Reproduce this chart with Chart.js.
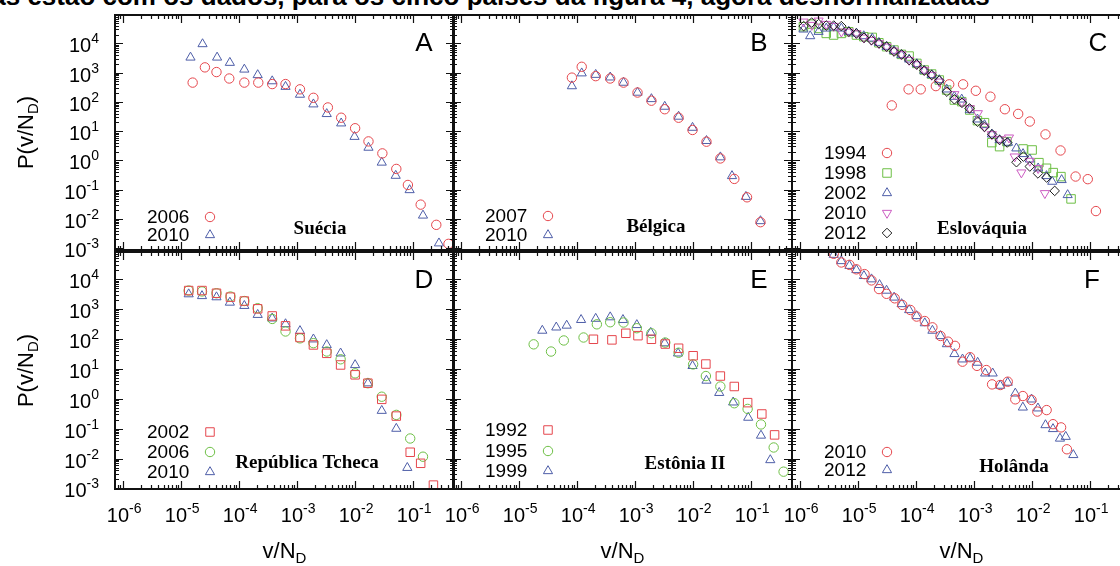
<!DOCTYPE html>
<html>
<head>
<meta charset="utf-8">
<script src="https://cdn.jsdelivr.net/npm/chart.js@4.4.1/dist/chart.umd.min.js"></script>
<style>
html, body { margin: 0; padding: 0; background: #fff; overflow: hidden; width: 1120px; height: 566px; }
.layer { position: absolute; left: 0; top: 0; }
#caption { position: absolute; left: 0; top: -19px; line-height: 26px; font: bold 26px "Liberation Sans", Arial, sans-serif; white-space: nowrap; color: #000; }
</style>
</head>
<body>
<div id="caption">Curvas estão com os dados, para os cinco países da figura 4, agora desnormalizadas</div>
<canvas id="pA" class="layer" width="1140" height="566"></canvas>
<canvas id="pB" class="layer" width="1140" height="566"></canvas>
<canvas id="pC" class="layer" width="1140" height="566"></canvas>
<canvas id="pD" class="layer" width="1140" height="566"></canvas>
<canvas id="pE" class="layer" width="1140" height="566"></canvas>
<canvas id="pF" class="layer" width="1140" height="566"></canvas>
<script>
// ---------- data: v/N_D (x) and P(v/N_D) (y) ----------
// Suécia
const sueciaX2006 = [1.58e-5, 2.57e-5, 4.07e-5, 6.76e-5, 1.23e-4, 2.14e-4, 3.72e-4, 6.31e-4, 1.12e-3, 1.91e-3, 3.39e-3, 5.75e-3, 1.0e-2, 1.70e-2, 2.95e-2, 5.13e-2, 8.13e-2, 0.135, 0.251, 0.407];
const sueciaY2006 = [457, 1514, 1047, 631, 457, 457, 407, 407, 269, 138, 64.6, 28.8, 12.6, 4.47, 1.74, 0.513, 0.145, 0.0309, 0.0063, 0.00141];
const sueciaX2010 = [1.45e-5, 2.34e-5, 4.17e-5, 6.92e-5, 1.23e-4, 2.09e-4, 3.72e-4, 6.31e-4, 1.12e-3, 1.91e-3, 3.24e-3, 5.75e-3, 9.77e-3, 1.70e-2, 2.88e-2, 5.01e-2, 8.71e-2, 0.148, 0.279];
const sueciaY2010 = [3311, 9500, 3311, 2188, 1288, 832, 513, 331, 178, 83.2, 38.9, 18.6, 6.46, 2.75, 0.851, 0.302, 0.0977, 0.0132, 0.00148];

// Bélgica
const belgicaX2007 = [8.13e-5, 1.20e-4, 2.09e-4, 3.72e-4, 6.31e-4, 1.10e-3, 1.91e-3, 3.24e-3, 5.62e-3, 9.77e-3, 1.70e-2, 2.95e-2, 5.13e-2, 8.51e-2, 0.145];
const belgicaY2007 = [676, 1585, 759, 631, 457, 209, 110, 56.2, 28.8, 11.0, 4.37, 1.17, 0.234, 0.055, 0.00776];
const belgicaX2010 = [8.13e-5, 1.20e-4, 2.09e-4, 3.72e-4, 6.31e-4, 1.10e-3, 1.91e-3, 3.24e-3, 5.62e-3, 9.77e-3, 1.70e-2, 2.95e-2, 4.68e-2, 8.13e-2, 0.145];
const belgicaY2010 = [347, 955, 851, 692, 457, 209, 126, 69.2, 31.6, 13.2, 4.68, 1.29, 0.295, 0.0575, 0.00851];

// Eslováquia
const eslovaquiaX1994 = [3.80e-5, 7.41e-5, 1.20e-4, 2.19e-4, 3.72e-4, 6.46e-4, 1.07e-3, 1.91e-3, 3.39e-3, 5.75e-3, 9.12e-3, 1.70e-2, 3.09e-2, 5.62e-2, 9.12e-2, 0.126];
const eslovaquiaY1994 = [75.9, 269, 269, 347, 398, 398, 240, 151, 56.2, 38.9, 21.4, 7.76, 2.19, 0.282, 0.229, 0.0186];
const eslovaquiaX1998 = [1.14e-6, 1.59e-6, 2.08e-6, 2.82e-6, 3.78e-6, 5.14e-6, 6.89e-6, 9.35e-6, 1.25e-5, 1.75e-5, 2.28e-5, 3.10e-5, 4.15e-5, 5.57e-5, 7.57e-5, 1.03e-4, 1.38e-4, 1.85e-4, 2.51e-4, 3.36e-4, 4.56e-4, 6.11e-4, 8.41e-4, 1.14e-3, 1.51e-3, 2.02e-3, 2.75e-3, 3.68e-3, 6.98e-3, 1.0e-2, 1.31e-2, 1.77e-2, 2.31e-2, 3.14e-2, 4.69e-2];
const eslovaquiaY1998 = [37100, 45700, 32500, 21900, 19300, 21900, 25000, 19300, 16900, 16000, 10500, 7700, 5920, 4210, 3690, 2070, 1230, 897, 560, 255, 116, 102, 53, 22.9, 19.5, 4.06, 2.96, 4.39, 2.47, 2.28, 0.84, 0.54, 0.384, 0.28, 0.0484];
const eslovaquiaX2002 = [1.14e-6, 1.49e-6, 2.08e-6, 2.82e-6, 3.78e-6, 5.14e-6, 6.89e-6, 9.35e-6, 1.25e-5, 1.75e-5, 2.28e-5, 3.10e-5, 4.15e-5, 5.57e-5, 7.57e-5, 1.03e-4, 1.38e-4, 1.85e-4, 2.51e-4, 3.36e-4, 4.56e-4, 6.11e-4, 8.41e-4, 1.14e-3, 1.51e-3, 2.02e-3, 2.75e-3, 3.84e-3, 5.35e-3, 6.98e-3, 9.12e-3, 1.27e-2, 1.77e-2, 2.22e-2, 3.23e-2, 4.10e-2];
const eslovaquiaY2002 = [30100, 17800, 25000, 32500, 35200, 32500, 25000, 21900, 17800, 14800, 10500, 7700, 5620, 4000, 2840, 1970, 1170, 830, 560, 269, 151, 122, 53, 25.4, 16.3, 7.81, 5.00, 4.06, 2.60, 1.67, 1.09, 0.54, 0.295, 0.189, 0.216, 0.0662];
const eslovaquiaX2010 = [1.14e-6, 1.59e-6, 2.08e-6, 2.82e-6, 3.78e-6, 5.14e-6, 6.89e-6, 9.35e-6, 1.25e-5, 1.69e-5, 2.28e-5, 3.10e-5, 4.15e-5, 5.57e-5, 7.57e-5, 1.03e-4, 1.38e-4, 1.85e-4, 2.51e-4, 4.56e-4, 6.11e-4, 8.41e-4, 1.16e-3, 1.51e-3, 2.02e-3, 2.75e-3, 3.99e-3, 5.00e-3, 6.53e-3, 9.12e-3, 1.27e-2, 1.66e-2];
const eslovaquiaY2010 = [55000, 42300, 59400, 45700, 39100, 25000, 25000, 21900, 15600, 13000, 10000, 7700, 5620, 4210, 2700, 1920, 1230, 830, 491, 182, 102, 60.4, 40.7, 14.3, 7.81, 5.27, 6.01, 1.35, 0.384, 0.96, 0.54, 0.0755];
const eslovaquiaX2012 = [1.15e-6, 1.58e-6, 2.09e-6, 2.82e-6, 3.80e-6, 5.13e-6, 6.92e-6, 9.33e-6, 1.26e-5, 1.70e-5, 2.29e-5, 3.09e-5, 4.17e-5, 5.62e-5, 7.59e-5, 1.02e-4, 1.38e-4, 1.86e-4, 2.51e-4, 3.39e-4, 4.57e-4, 6.17e-4, 8.32e-4, 1.15e-3, 1.51e-3, 2.04e-3, 2.75e-3, 3.72e-3, 5.37e-3, 7.08e-3, 9.12e-3, 1.26e-2, 1.78e-2, 2.45e-2];
const eslovaquiaY2012 = [38900, 51300, 45700, 40700, 40700, 38900, 25100, 21900, 15500, 12900, 10000, 7760, 5250, 4170, 2690, 1910, 1175, 832, 537, 224, 123, 93, 60, 21, 14, 7.8, 5.0, 4.1, 0.87, 1.35, 0.62, 0.36, 0.26, 0.091];

// República Tcheca
const tchecaX2002 = [1.35e-5, 2.29e-5, 4.07e-5, 7.08e-5, 1.23e-4, 2.09e-4, 3.72e-4, 6.31e-4, 1.12e-3, 1.91e-3, 3.24e-3, 5.62e-3, 1.0e-2, 1.66e-2, 2.88e-2, 5.13e-2, 8.91e-2, 0.135, 0.224];
const tchecaY2002 = [4170, 4170, 3390, 2510, 1860, 1020, 589, 275, 112, 63.1, 33.1, 13.5, 6.31, 3.31, 0.955, 0.263, 0.0162, 0.00692, 0.00129];
const tchecaX2006 = [1.35e-5, 2.29e-5, 4.07e-5, 7.08e-5, 1.23e-4, 2.09e-4, 3.72e-4, 6.31e-4, 1.12e-3, 1.91e-3, 3.24e-3, 5.62e-3, 1.0e-2, 1.66e-2, 2.88e-2, 5.13e-2, 8.91e-2, 0.148];
const tchecaY2006 = [4170, 3890, 3390, 2630, 1860, 1070, 468, 178, 105, 72.4, 38.0, 20.9, 7.08, 3.31, 1.17, 0.288, 0.0468, 0.0115];
const tchecaX2010 = [1.35e-5, 2.29e-5, 4.07e-5, 6.92e-5, 1.23e-4, 2.09e-4, 3.72e-4, 6.31e-4, 1.12e-3, 1.91e-3, 3.24e-3, 5.62e-3, 1.0e-2, 1.66e-2, 2.88e-2, 5.13e-2, 7.94e-2];
const tchecaY2010 = [3160, 2750, 2510, 1660, 1290, 646, 490, 316, 186, 97.7, 63.1, 33.1, 13.5, 3.31, 0.398, 0.1, 0.0049];

// Estônia II
const estoniaX1992 = [1.91e-4, 3.98e-4, 6.92e-4, 1.12e-3, 1.91e-3, 3.31e-3, 5.62e-3, 1.0e-2, 1.66e-2, 2.95e-2, 5.13e-2, 8.71e-2, 0.153, 0.254];
const estoniaY1992 = [97.7, 93.3, 155, 129, 97.7, 67.6, 49.0, 27.5, 14.5, 5.75, 2.57, 0.741, 0.309, 0.0617];
const estoniaX1995 = [1.78e-5, 3.55e-5, 5.89e-5, 1.29e-4, 2.19e-4, 3.72e-4, 6.31e-4, 1.07e-3, 1.91e-3, 3.31e-3, 5.62e-3, 1.0e-2, 1.66e-2, 2.95e-2, 5.13e-2, 8.71e-2, 0.148, 0.245, 0.363];
const estoniaY1995 = [66.1, 38.0, 89.1, 112, 309, 363, 355, 229, 155, 75.9, 34.7, 14.1, 5.75, 2.57, 0.708, 0.457, 0.138, 0.0234, 0.00363];
const estoniaX1999 = [2.51e-5, 4.37e-5, 6.61e-5, 1.17e-4, 2.09e-4, 3.72e-4, 6.17e-4, 1.07e-3, 1.86e-3, 3.24e-3, 5.50e-3, 9.77e-3, 1.70e-2, 2.82e-2, 4.90e-2, 8.91e-2, 0.148, 0.214];
const estoniaY1999 = [191, 245, 282, 437, 479, 537, 437, 295, 162, 72.4, 33.1, 12.6, 4.07, 1.58, 0.759, 0.234, 0.0589, 0.00891];

// Holânda
const holandaX2010 = [3.80e-6, 5.13e-6, 7.08e-6, 9.33e-6, 1.29e-5, 1.70e-5, 2.29e-5, 3.09e-5, 4.27e-5, 5.75e-5, 7.94e-5, 1.02e-4, 1.41e-4, 1.91e-4, 2.63e-4, 3.55e-4, 4.68e-4, 6.31e-4, 8.51e-4, 1.12e-3, 1.62e-3, 2.04e-3, 2.82e-3, 3.80e-3, 5.13e-3, 6.92e-3, 9.77e-3, 1.23e-2, 1.78e-2, 2.29e-2, 3.16e-2, 3.98e-2];
const holandaY2010 = [70800, 36300, 30200, 21400, 14800, 9120, 4680, 3240, 2290, 1380, 933, 562, 398, 245, 126, 81.3, 58.9, 17.4, 24.5, 12.6, 9.12, 3.02, 2.88, 3.72, 0.955, 1.23, 0.912, 0.372, 0.417, 0.141, 0.110, 0.0204];
const holandaX2012 = [3.80e-6, 5.13e-6, 7.08e-6, 9.33e-6, 1.26e-5, 1.70e-5, 2.34e-5, 3.09e-5, 4.17e-5, 5.62e-5, 7.59e-5, 1.02e-4, 1.41e-4, 1.91e-4, 2.63e-4, 3.39e-4, 4.57e-4, 6.31e-4, 8.51e-4, 1.15e-3, 1.55e-3, 2.09e-3, 2.82e-3, 3.80e-3, 5.13e-3, 6.92e-3, 9.77e-3, 1.26e-2, 1.70e-2, 2.29e-2, 3.02e-2, 3.80e-2, 5.13e-2];
const holandaY2012 = [66100, 40700, 28200, 20400, 12900, 10000, 6460, 4170, 2450, 1480, 933, 589, 339, 191, 126, 67.6, 31.6, 20.9, 22.4, 16.2, 7.08, 7.08, 2.75, 3.47, 1.51, 0.513, 0.955, 0.479, 0.132, 0.0977, 0.0468, 0.0537, 0.0132];

// tick decades
const xDecades = [-6, -5, -4, -3, -2, -1];
const yDecades = [-3, -2, -1, 0, 1, 2, 3, 4];

// ---------- marker styles ----------
const RED = '#e5464c', BLUE = '#4e5ea8', GREEN = '#6dbf45', PINK = '#cc5cc2', BLACK = '#1e1e1e';
const M = {
  circleRed:   { pointStyle: 'circle',   pointRadius: 4.7, pointBorderColor: RED },
  circleGreen: { pointStyle: 'circle',   pointRadius: 4.7, pointBorderColor: GREEN },
  triBlue:     { pointStyle: 'triangle', pointRadius: 5.3, pointBorderColor: BLUE },
  triDownPink: { pointStyle: 'triangle', pointRadius: 5.3, pointBorderColor: PINK, pointRotation: 180 },
  squareGreen: { pointStyle: 'rect',     pointRadius: 6,   pointBorderColor: GREEN },
  squareRed:   { pointStyle: 'rect',     pointRadius: 6,   pointBorderColor: RED },
  diamond:     { pointStyle: 'rectRot',  pointRadius: 4.8, pointBorderColor: BLACK }
};

function series(label, xs, ys, style) {
  return Object.assign({
    label,
    data: xs.map((x, i) => ({ x, y: ys[i] })),
    showLine: false,
    pointBorderWidth: 1,
    pointBackgroundColor: 'rgba(0,0,0,0)',
    pointRotation: 0
  }, style);
}

// ---------- layout ----------
const CW = 1140, CH = 566, PW = 339;
const COLS = [115, 453, 792];
const ROWS = [
  { top: 15,  bottom: 250, ymin: 8.7e-4,  ymax: 93300 },
  { top: 252, bottom: 489, ymin: 9.55e-4, ymax: 81300 }
];
const XMIN = 7.24e-7, XMAX = 0.507;

const SANS = '"Liberation Sans", Arial, Helvetica, sans-serif';
const SERIF = '"Liberation Serif", "Times New Roman", serif';

// the caption line runs off the top edge; place its first comma under x = 277
(function placeCaption() {
  const el = document.getElementById('caption');
  const text = el.textContent;
  const c = document.createElement('canvas').getContext('2d');
  c.font = 'bold 26px ' + SANS;
  const w = c.measureText(text.slice(0, text.indexOf(','))).width;
  el.style.left = Math.round(277 - w) + 'px';
})();

function richWidth(ctx, parts) {
  let w = 0;
  for (const p of parts) { ctx.font = p.font; w += ctx.measureText(p.t).width; }
  return w;
}
function drawRich(ctx, parts, x, y, align) {
  const w = richWidth(ctx, parts);
  let cx = align === 'center' ? x - w / 2 : align === 'right' ? x - w : x;
  ctx.textAlign = 'left';
  ctx.textBaseline = 'alphabetic';
  for (const p of parts) {
    ctx.font = p.font;
    ctx.fillText(p.t, cx, y + (p.dy || 0));
    cx += ctx.measureText(p.t).width;
  }
}
function powLabel(e) {
  return [{ t: '10', font: '20px ' + SANS }, { t: String(e), font: '14px ' + SANS, dy: -9 }];
}
function drawMarker(ctx, style, x, y) {
  ctx.save();
  ctx.strokeStyle = style.pointBorderColor;
  ctx.fillStyle = 'rgba(0,0,0,0)';
  ctx.lineWidth = 1;
  Chart.helpers.drawPoint(ctx, {
    pointStyle: style.pointStyle,
    radius: style.pointRadius,
    rotation: style.pointRotation || 0,
    borderWidth: 1
  }, x, y);
  ctx.restore();
}

// frame, ticks, labels, legend and panel annotations
const framePlugin = {
  id: 'frame',
  afterDraw(chart, args, cfg) {
    const ctx = chart.ctx;
    const a = chart.chartArea;
    const xs = chart.scales.x, ys = chart.scales.y;
    ctx.save();
    ctx.strokeStyle = '#111';
    ctx.fillStyle = '#111';

    // ticks on all four sides, pointing inward
    ctx.lineWidth = 1.2;
    ctx.beginPath();
    for (let d = -7; d <= 0; d++) {
      for (let m = 1; m <= 9; m++) {
        const v = m * Math.pow(10, d);
        if (v < xs.min || v > xs.max) continue;
        const px = Math.round(xs.getPixelForValue(v)) + 0.5;
        const len = m === 1 ? 8 : 4;
        ctx.moveTo(px, a.bottom); ctx.lineTo(px, a.bottom - len);
        ctx.moveTo(px, a.top); ctx.lineTo(px, a.top + len);
      }
    }
    for (let d = -4; d <= 5; d++) {
      for (let m = 1; m <= 9; m++) {
        const v = m * Math.pow(10, d);
        if (v < ys.min || v > ys.max) continue;
        const py = Math.round(ys.getPixelForValue(v)) + 0.5;
        const len = m === 1 ? 8 : 4;
        ctx.moveTo(a.left, py); ctx.lineTo(a.left + len, py);
        ctx.moveTo(a.right, py); ctx.lineTo(a.right - len, py);
      }
    }
    ctx.stroke();

    // border
    ctx.lineWidth = 2;
    ctx.strokeRect(a.left, a.top, a.right - a.left, a.bottom - a.top);

    ctx.fillStyle = '#000';
    // x tick labels and title (bottom row)
    if (cfg.xLabels) {
      for (const e of xDecades) {
        const px = xs.getPixelForValue(Math.pow(10, e));
        drawRich(ctx, powLabel(e), px + 1, 522, 'center');
      }
      drawRich(ctx, [
        { t: 'v/N', font: '22px ' + SANS },
        { t: 'D', font: '15px ' + SANS, dy: 5 }
      ], (a.left + a.right) / 2, 558, 'center');
    }
    // y tick labels and title (left column)
    if (cfg.yLabels) {
      for (const e of yDecades) {
        const py = ys.getPixelForValue(Math.pow(10, e));
        drawRich(ctx, powLabel(e), 99, py + 9, 'right');
      }
      ctx.save();
      ctx.translate(33, (a.top + a.bottom) / 2);
      ctx.rotate(-Math.PI / 2);
      drawRich(ctx, [
        { t: 'P(v/N', font: '22px ' + SANS },
        { t: 'D', font: '15px ' + SANS, dy: 5 },
        { t: ')', font: '22px ' + SANS }
      ], 0, 0, 'center');
      ctx.restore();
    }

    // panel letter
    ctx.font = '26px ' + SANS;
    ctx.textAlign = 'center';
    ctx.textBaseline = 'middle';
    ctx.fillText(cfg.letter, a.right - cfg.letterDx, a.top + 29);

    // country name
    ctx.font = 'bold 19px ' + SERIF;
    ctx.fillText(cfg.country, a.left + cfg.countryDx, a.bottom + cfg.countryDy);

    // legend
    ctx.textAlign = 'left';
    cfg.legend.forEach((item, i) => {
      const y = a.bottom + cfg.legendRows[i];
      ctx.fillStyle = '#000';
      ctx.textBaseline = 'middle';
      ctx.font = '19px ' + SANS;
      ctx.fillText(item.label, a.left + 32, y + 1);
      drawMarker(ctx, item.style, a.left + 95, y);
    });
    ctx.restore();
  }
};

function makePanel(id, col, row, datasets, cfg) {
  const left = COLS[col];
  const r = ROWS[row];
  new Chart(document.getElementById(id), {
    type: 'scatter',
    data: { datasets },
    options: {
      responsive: false,
      animation: false,
      events: [],
      layout: { padding: { left: left, top: r.top, right: CW - (left + PW), bottom: CH - r.bottom } },
      plugins: {
        legend: { display: false },
        tooltip: { enabled: false },
        frame: cfg
      },
      scales: {
        x: { type: 'logarithmic', min: XMIN, max: XMAX, display: false },
        y: { type: 'logarithmic', min: r.ymin, max: r.ymax, display: false }
      }
    },
    plugins: [framePlugin]
  });
}

makePanel('pA', 0, 0, [
  series('2006', sueciaX2006, sueciaY2006, M.circleRed),
  series('2010', sueciaX2010, sueciaY2010, M.triBlue)
], {
  letter: 'A', letterDx: 30, country: 'Suécia', countryDx: 205, countryDy: -21,
  legendRows: [-33, -15],
  legend: [{ label: '2006', style: M.circleRed }, { label: '2010', style: M.triBlue }],
  xLabels: false, yLabels: true
});

makePanel('pB', 1, 0, [
  series('2007', belgicaX2007, belgicaY2007, M.circleRed),
  series('2010', belgicaX2010, belgicaY2010, M.triBlue)
], {
  letter: 'B', letterDx: 33, country: 'Bélgica', countryDx: 203, countryDy: -23,
  legendRows: [-34, -15],
  legend: [{ label: '2007', style: M.circleRed }, { label: '2010', style: M.triBlue }],
  xLabels: false, yLabels: false
});

makePanel('pC', 2, 0, [
  series('2012', eslovaquiaX2012, eslovaquiaY2012, M.diamond),
  series('2010', eslovaquiaX2010, eslovaquiaY2010, M.triDownPink),
  series('2002', eslovaquiaX2002, eslovaquiaY2002, M.triBlue),
  series('1998', eslovaquiaX1998, eslovaquiaY1998, M.squareGreen),
  series('1994', eslovaquiaX1994, eslovaquiaY1994, M.circleRed)
], {
  letter: 'C', letterDx: 33, country: 'Eslováquia', countryDx: 190, countryDy: -21,
  legendRows: [-97, -77, -57, -37, -17],
  legend: [
    { label: '1994', style: M.circleRed },
    { label: '1998', style: M.squareGreen },
    { label: '2002', style: M.triBlue },
    { label: '2010', style: M.triDownPink },
    { label: '2012', style: M.diamond }
  ],
  xLabels: false, yLabels: false
});

makePanel('pD', 0, 1, [
  series('2002', tchecaX2002, tchecaY2002, M.squareRed),
  series('2006', tchecaX2006, tchecaY2006, M.circleGreen),
  series('2010', tchecaX2010, tchecaY2010, M.triBlue)
], {
  letter: 'D', letterDx: 30, country: 'República Tcheca', countryDx: 192, countryDy: -26,
  legendRows: [-57, -37, -17],
  legend: [
    { label: '2002', style: M.squareRed },
    { label: '2006', style: M.circleGreen },
    { label: '2010', style: M.triBlue }
  ],
  xLabels: true, yLabels: true
});

makePanel('pE', 1, 1, [
  series('1992', estoniaX1992, estoniaY1992, M.squareRed),
  series('1995', estoniaX1995, estoniaY1995, M.circleGreen),
  series('1999', estoniaX1999, estoniaY1999, M.triBlue)
], {
  letter: 'E', letterDx: 33, country: 'Estônia II', countryDx: 232, countryDy: -25,
  legendRows: [-59, -38, -18],
  legend: [
    { label: '1992', style: M.squareRed },
    { label: '1995', style: M.circleGreen },
    { label: '1999', style: M.triBlue }
  ],
  xLabels: true, yLabels: false
});

makePanel('pF', 2, 1, [
  series('2010', holandaX2010, holandaY2010, M.circleRed),
  series('2012', holandaX2012, holandaY2012, M.triBlue)
], {
  letter: 'F', letterDx: 39, country: 'Holânda', countryDx: 222, countryDy: -22,
  legendRows: [-37, -19],
  legend: [{ label: '2010', style: M.circleRed }, { label: '2012', style: M.triBlue }],
  xLabels: true, yLabels: false
});
</script>
</body>
</html>
